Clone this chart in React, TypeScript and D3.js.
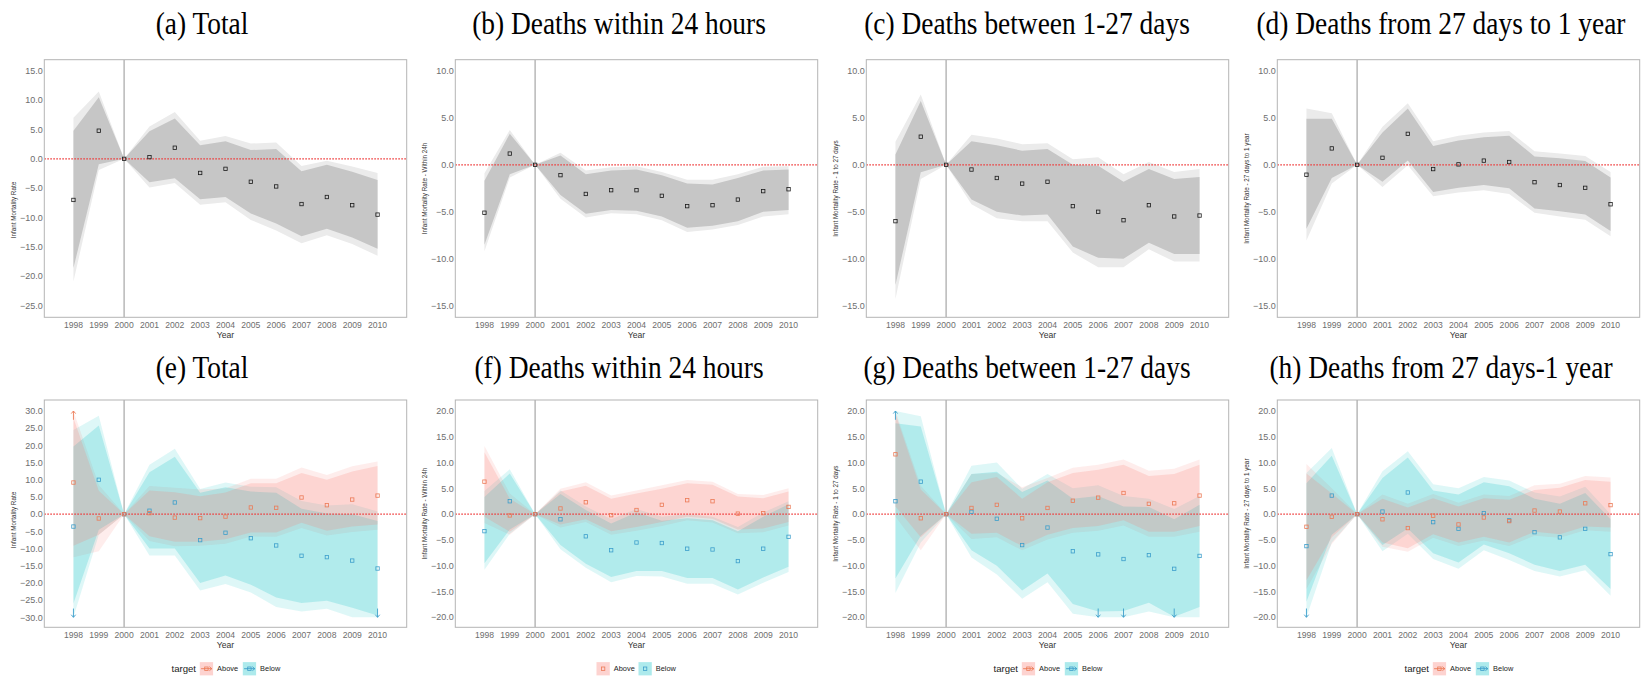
import React from "react";
import * as d3 from "d3";

// years on the x axis (2000 is the reference year)
const years = [1998, 1999, 2000, 2001, 2002, 2003, 2004, 2005, 2006, 2007, 2008, 2009, 2010];

// (a) Total
const aEst = [-7.0, 4.8, 0, 0.3, 1.9, -2.4, -1.7, -3.9, -4.7, -7.7, -6.5, -7.9, -9.5];
const aInLo = [-18.6, -0.9, 0, -4.0, -3.3, -6.9, -6.5, -9.3, -11.0, -13.2, -11.9, -13.4, -15.3];
const aInHi = [4.8, 10.5, 0, 4.7, 6.9, 2.3, 3.0, 1.5, 1.7, -2.1, -1.0, -2.2, -3.6];
const aOutLo = [-20.9, -1.9, 0, -4.9, -4.1, -7.8, -7.4, -10.4, -12.2, -14.4, -13.0, -14.5, -16.5];
const aOutHi = [7.0, 11.5, 0, 5.5, 8.0, 3.1, 3.9, 2.6, 2.8, -1.2, -0.3, -1.3, -2.4];

// (b) within 24 hours
const bEst = [-5.1, 1.2, 0, -1.1, -3.1, -2.7, -2.7, -3.3, -4.4, -4.3, -3.7, -2.8, -2.6];
const bInLo = [-8.5, -1.0, 0, -3.2, -5.2, -4.8, -4.9, -5.5, -6.7, -6.5, -6.0, -5.0, -4.8];
const bInHi = [-1.7, 3.3, 0, 1.0, -1.0, -0.6, -0.5, -1.1, -2.0, -2.1, -1.4, -0.6, -0.5];
const bOutLo = [-9.2, -1.35, 0, -3.6, -5.6, -5.15, -5.25, -5.9, -7.15, -6.9, -6.4, -5.5, -5.25];
const bOutHi = [-0.9, 3.7, 0, 1.3, -0.6, -0.25, -0.15, -0.75, -1.6, -1.6, -1.0, -0.2, -0.15];

// (c) 1 to 27 days
const cEst = [-6.0, 3.0, 0, -0.5, -1.4, -2.0, -1.8, -4.4, -5.0, -5.9, -4.3, -5.5, -5.4];
const cInLo = [-12.8, -0.8, 0, -3.7, -5.0, -5.4, -5.3, -8.7, -9.9, -10.0, -8.3, -9.5, -9.5];
const cInHi = [1.1, 6.8, 0, 2.5, 2.1, 1.5, 1.7, 0.0, -0.1, -1.8, -0.45, -1.5, -1.3];
const cOutLo = [-14.3, -1.5, 0, -4.2, -5.7, -6.0, -6.0, -9.35, -10.9, -10.9, -9.0, -10.3, -10.3];
const cOutHi = [2.45, 7.5, 0, 3.2, 2.8, 2.2, 2.3, 0.6, 0.8, -1.0, 0.3, -0.75, -0.45];

// (d) 27 days to 1 year
const dEst = [-1.05, 1.75, 0, 0.75, 3.3, -0.45, 0.05, 0.45, 0.3, -1.85, -2.15, -2.45, -4.2];
const dInLo = [-6.8, -1.4, 0, -1.8, 0.45, -2.9, -2.45, -2.15, -2.5, -4.65, -4.95, -5.3, -7.05];
const dInHi = [4.9, 4.9, 0, 3.45, 6.0, 2.0, 2.6, 2.95, 3.1, 0.9, 0.7, 0.4, -1.35];
const dOutLo = [-8.05, -2.0, 0, -2.35, -0.05, -3.35, -2.95, -2.7, -3.1, -5.1, -5.5, -5.85, -7.6];
const dOutHi = [6.0, 5.5, 0, 4.05, 6.55, 2.5, 3.1, 3.45, 3.6, 1.45, 1.2, 0.95, -0.75];

// (e) Total, by target
const eAEst = [9.2, -1.25, 0, 0.3, -1.0, -1.15, -0.7, 1.95, 1.85, 4.85, 2.6, 4.25, 5.4];
const eAInLo = [-9.2, -6.0, 0, -6.4, -8.0, -8.0, -7.3, -5.3, -5.3, -2.5, -4.8, -3.6, -3.0];
const eAInHi = [28.0, 6.8, 0, 6.9, 6.4, 5.2, 6.3, 9.0, 9.0, 12.0, 10.0, 12.4, 14.0];
const eAOutLo = [-12.5, -10.8, 0, -7.8, -9.3, -9.2, -8.6, -6.5, -6.6, -4.0, -6.2, -5.2, -4.5];
const eAOutHi = [30, 8.5, 0, 8.2, 7.7, 7.2, 7.5, 10.3, 10.3, 13.6, 11.4, 13.9, 15.3];
const eBEst = [-3.6, 10.0, 0, 1.0, 3.4, -7.55, -5.4, -7.0, -9.1, -12.1, -12.5, -13.5, -15.8];
const eBInLo = [-26.0, -4.5, 0, -10.0, -10.0, -20.0, -17.8, -20.5, -24.2, -25.8, -25.2, -27.2, -29.5];
const eBInHi = [19.7, 25.8, 0, 12.2, 16.7, 6.2, 7.8, 6.6, 6.2, 1.6, 0.2, 0.0, -2.0];
const eBOutLo = [-30, -6.0, 0, -12.0, -12.0, -22.2, -20.3, -22.8, -27.0, -28.3, -27.5, -30, -30];
const eBOutHi = [24.5, 28.6, 0, 14.4, 19.0, 7.3, 9.2, 8.0, 7.8, 3.8, 2.5, 2.9, 0.8];

// (f) within 24h, by target
const fAEst = [6.3, -0.25, 0, 1.1, 2.3, -0.2, 0.8, 1.8, 2.7, 2.5, 0.1, 0.2, 1.4];
const fAInLo = [-0.5, -3.4, 0, -2.0, -1.0, -3.3, -2.5, -1.5, -0.5, -0.9, -3.0, -2.8, -1.5];
const fAInHi = [12.0, 3.0, 0, 4.4, 5.5, 3.0, 4.0, 4.9, 6.0, 5.7, 3.4, 3.1, 4.4];
const fAOutLo = [-1.7, -4.0, 0, -2.6, -1.5, -4.0, -3.2, -2.3, -1.2, -1.6, -3.7, -3.5, -2.2];
const fAOutHi = [13.2, 4.0, 0, 4.9, 6.2, 3.6, 4.6, 5.6, 6.6, 6.3, 3.9, 3.7, 5.0];
const fBEst = [-3.3, 2.5, 0, -1.0, -4.3, -7.0, -5.5, -5.6, -6.7, -6.85, -9.1, -6.7, -4.4];
const fBInLo = [-9.5, -3.0, 0, -6.0, -9.6, -12.2, -11.0, -11.0, -12.4, -12.4, -14.6, -12.3, -10.2];
const fBInHi = [3.3, 7.9, 0, 3.9, 0.8, -1.8, 0.3, -1.3, -0.8, -1.2, -3.3, -0.5, 1.9];
const fBOutLo = [-10.8, -3.8, 0, -6.8, -10.4, -13.2, -12.0, -12.1, -13.5, -13.5, -15.6, -13.3, -11.2];
const fBOutHi = [4.5, 8.7, 0, 4.6, 1.5, -1.0, 1.0, -0.5, 0.0, -0.5, -2.5, 0.3, 2.5];

// (g) 1 to 27 days, by target
const gAEst = [11.6, -0.8, 0, 1.2, 1.8, -0.8, 1.2, 2.6, 3.2, 4.1, 2.0, 2.1, 3.6];
const gAInLo = [1.5, -4.5, 0, -3.8, -3.6, -6.2, -4.0, -2.7, -2.3, -1.2, -3.4, -3.4, -2.3];
const gAInHi = [19.5, 4.8, 0, 6.2, 7.2, 3.0, 6.2, 8.0, 8.6, 9.6, 7.4, 7.8, 9.6];
const gAOutLo = [-0.5, -7.0, 0, -4.8, -4.5, -7.0, -4.9, -3.6, -3.2, -2.2, -4.4, -4.4, -3.4];
const gAOutHi = [20, 5.5, 0, 7.8, 8.0, 5.2, 7.0, 9.0, 9.6, 10.6, 8.4, 8.8, 10.6];
const gBEst = [2.5, 6.3, 0, 0.45, -0.9, -6.0, -2.6, -7.2, -7.8, -8.7, -7.95, -10.6, -8.1];
const gBInLo = [-12.5, -4.2, 0, -7.0, -10.0, -14.8, -11.5, -17.4, -18.9, -18.8, -17.2, -19.9, -18.0];
const gBInHi = [17.6, 17.0, 0, 7.8, 8.2, 4.3, 6.5, 3.0, 3.5, 1.5, 1.4, -1.0, 1.8];
const gBOutLo = [-15.3, -5.5, 0, -8.4, -11.7, -16.4, -13.2, -19.3, -20, -20, -18.9, -20, -20];
const gBOutHi = [20, 19.0, 0, 9.4, 10.0, 4.9, 7.8, 5.0, 5.6, 3.5, 3.0, 1.0, 3.5];

// (h) 27 days to 1 year, by target
const hAEst = [-2.45, -0.5, 0, -1.0, -2.7, -0.3, -2.0, -0.65, -1.35, 0.7, 0.5, 2.1, 1.75];
const hAInLo = [-12.8, -4.5, 0, -5.5, -6.6, -3.9, -5.5, -4.4, -5.5, -3.4, -3.9, -2.4, -2.6];
const hAInHi = [7.9, 4.0, 0, 3.0, 1.3, 3.1, 1.5, 3.1, 2.8, 4.7, 5.1, 6.6, 6.3];
const hAOutLo = [-14.5, -5.8, 0, -6.3, -7.3, -4.6, -6.2, -5.1, -6.2, -4.2, -4.6, -3.1, -3.4];
const hAOutHi = [9.7, 5.0, 0, 3.8, 2.0, 3.9, 2.2, 3.8, 3.5, 5.6, 5.9, 7.4, 7.1];
const hBEst = [-6.2, 3.6, 0, 0.5, 4.2, -1.55, -2.85, 0.2, -1.2, -3.5, -4.5, -2.85, -7.75];
const hBInLo = [-17.0, -4.0, 0, -6.0, -2.8, -7.6, -9.4, -5.9, -7.6, -9.8, -11.0, -9.8, -14.5];
const hBInHi = [6.0, 11.3, 0, 7.0, 11.0, 4.6, 3.8, 6.2, 5.4, 3.0, 2.0, 4.1, -1.0];
const hBOutLo = [-20, -5.5, 0, -7.2, -3.8, -8.7, -10.6, -7.0, -8.9, -11.0, -12.1, -10.9, -15.8];
const hBOutHi = [8.0, 12.8, 0, 8.3, 12.2, 5.8, 5.0, 7.2, 6.5, 4.2, 3.4, 5.3, 0.0];

// intervals cut off by the axis limits
const eAboveUp = [1998];
const eBelowDown = [1998, 2010];
const gBelowUp = [1998];
const gBelowDown = [2006, 2007, 2009];
const hBelowDown = [1998];

const ticksA = [15, 10, 5, 0, -5, -10, -15, -20, -25];
const ticksBCD = [10, 5, 0, -5, -10, -15];
const ticksE = [30, 25, 20, 15, 10, 5, 0, -5, -10, -15, -20, -25, -30];
const ticksFGH = [20, 15, 10, 5, 0, -5, -10, -15, -20];

const titles = [
  "(a) Total", "(b) Deaths within 24 hours", "(c) Deaths between 1-27 days", "(d) Deaths from 27 days to 1 year",
  "(e) Total", "(f) Deaths within 24 hours", "(g) Deaths between 1-27 days", "(h) Deaths from 27 days-1 year",
];
const yTitles = [
  "Infant Mortality Rate", "Infant Mortality Rate - Within 24h",
  "Infant Mortality Rate - 1 to 27 days", "Infant Mortality Rate - 27 days to 1 year",
];
const groups = ["Above", "Below"];

const colLeft = [44.3, 455.3, 866.3, 1277.3];
const panelW = 362.4;
const rowTop = [59.7, 400];
const rowBottom = [317.3, 627.3];
const xDomain = [1996.85, 2011.15];

const ABOVE = "#F8766D";
const BELOW = "#00BFC4";
const ABOVE_PT = "#EC7A56";
const BELOW_PT = "#3C9ECB";
const SANS = "'Liberation Sans', Arial, Helvetica, sans-serif";
const SERIF = "'Liberation Serif', 'Times New Roman', serif";

type Series = {
  est: number[]; inLo: number[]; inHi: number[]; outLo: number[]; outHi: number[];
  fill?: string; pt: string; up?: number[]; down?: number[];
};

type PanelDef = {
  col: number; row: number; yDomain: [number, number]; ticks: number[];
  yTitle: string; yTitleY?: number; series: Series[]; legend?: "full" | "points";
};

const gray = (est, inLo, inHi, outLo, outHi): Series => ({ est, inLo, inHi, outLo, outHi, pt: "#1a1a1a" });

const panels: PanelDef[] = [
  { col: 0, row: 0, yDomain: [-27.0, 16.9], ticks: ticksA, yTitle: yTitles[0], yTitleY: 210, series: [gray(aEst, aInLo, aInHi, aOutLo, aOutHi)] },
  { col: 1, row: 0, yDomain: [-16.24, 11.2], ticks: ticksBCD, yTitle: yTitles[1], series: [gray(bEst, bInLo, bInHi, bOutLo, bOutHi)] },
  { col: 2, row: 0, yDomain: [-16.24, 11.2], ticks: ticksBCD, yTitle: yTitles[2], series: [gray(cEst, cInLo, cInHi, cOutLo, cOutHi)] },
  { col: 3, row: 0, yDomain: [-16.24, 11.2], ticks: ticksBCD, yTitle: yTitles[3], series: [gray(dEst, dInLo, dInHi, dOutLo, dOutHi)] },
  {
    col: 0, row: 1, yDomain: [-32.9, 33.2], ticks: ticksE, yTitle: yTitles[0], yTitleY: 520, legend: "full",
    series: [
      { est: eBEst, inLo: eBInLo, inHi: eBInHi, outLo: eBOutLo, outHi: eBOutHi, fill: BELOW, pt: BELOW_PT, down: eBelowDown },
      { est: eAEst, inLo: eAInLo, inHi: eAInHi, outLo: eAOutLo, outHi: eAOutHi, fill: ABOVE, pt: ABOVE_PT, up: eAboveUp },
    ],
  },
  {
    col: 1, row: 1, yDomain: [-21.94, 22.13], ticks: ticksFGH, yTitle: yTitles[1], legend: "points",
    series: [
      { est: fBEst, inLo: fBInLo, inHi: fBInHi, outLo: fBOutLo, outHi: fBOutHi, fill: BELOW, pt: BELOW_PT },
      { est: fAEst, inLo: fAInLo, inHi: fAInHi, outLo: fAOutLo, outHi: fAOutHi, fill: ABOVE, pt: ABOVE_PT },
    ],
  },
  {
    col: 2, row: 1, yDomain: [-21.94, 22.13], ticks: ticksFGH, yTitle: yTitles[2], legend: "full",
    series: [
      { est: gBEst, inLo: gBInLo, inHi: gBInHi, outLo: gBOutLo, outHi: gBOutHi, fill: BELOW, pt: BELOW_PT, up: gBelowUp, down: gBelowDown },
      { est: gAEst, inLo: gAInLo, inHi: gAInHi, outLo: gAOutLo, outHi: gAOutHi, fill: ABOVE, pt: ABOVE_PT },
    ],
  },
  {
    col: 3, row: 1, yDomain: [-21.94, 22.13], ticks: ticksFGH, yTitle: yTitles[3], legend: "full",
    series: [
      { est: hBEst, inLo: hBInLo, inHi: hBInHi, outLo: hBOutLo, outHi: hBOutHi, fill: BELOW, pt: BELOW_PT, down: hBelowDown },
      { est: hAEst, inLo: hAInLo, inHi: hAInHi, outLo: hAOutLo, outHi: hAOutHi, fill: ABOVE, pt: ABOVE_PT },
    ],
  },
];

const fmt = (v: number) => (v < 0 ? "\u2212" : "") + Math.abs(v).toFixed(1);

function Arrow({ x, y0, y1, color }) {
  // little open arrow, y1 is the tip
  const dir = y1 < y0 ? 1 : -1;
  return (
    <g stroke={color} strokeWidth={0.9} fill="none">
      <line x1={x} x2={x} y1={y0} y2={y1} />
      <polyline points={`${x - 2.2},${y1 + dir * 2.6} ${x},${y1} ${x + 2.2},${y1 + dir * 2.6}`} />
    </g>
  );
}

function Legend({ cx, mode }) {
  const cy = 668.7;
  const items = groups.map((g, i) => ({
    g, fill: i === 0 ? ABOVE : BELOW, pt: i === 0 ? ABOVE_PT : BELOW_PT,
  }));
  const start = mode === "full" ? cx - 54 : cx - 40;
  const keyX = mode === "full" ? [28.3, 71.3] : [0, 42];
  return (
    <g fontFamily={SANS}>
      {mode === "full" && (
        <text x={start} y={cy + 3.3} fontSize={9.6} fill="#222">target</text>
      )}
      {items.map((it, i) => {
        const kx = start + keyX[i];
        return (
          <g key={it.g}>
            <rect x={kx} y={cy - 6.6} width={13.3} height={13.3} fill={it.fill} fillOpacity={0.32} />
            {mode === "full" && (
              <g stroke={it.pt} strokeWidth={0.9} fill="none">
                <line x1={kx + 1.3} x2={kx + 12} y1={cy} y2={cy} />
                <polyline points={`${kx + 9.6},${cy - 2} ${kx + 12},${cy} ${kx + 9.6},${cy + 2}`} />
              </g>
            )}
            <rect x={kx + 4.9} y={cy - 1.7} width={3.4} height={3.4} fill="none" stroke={it.pt} strokeWidth={0.8} />
            <text x={kx + 17.3} y={cy + 2.6} fontSize={7.4} fill="#222">{it.g}</text>
          </g>
        );
      })}
    </g>
  );
}

function Panel({ p, idx }: { p: PanelDef; idx: number }) {
  const left = colLeft[p.col];
  const right = left + panelW;
  const top = rowTop[p.row];
  const bottom = rowBottom[p.row];
  const x = d3.scaleLinear().domain(xDomain).range([left, right]);
  const y = d3.scaleLinear().domain(p.yDomain).range([bottom, top]);
  const idxs = years.map((_, i) => i);
  const band = (lo: number[], hi: number[]) =>
    d3.area<number>().x((i) => x(years[i])).y0((i) => y(lo[i])).y1((i) => y(hi[i]))(idxs) || "";
  const clipId = `clip${idx}`;
  const cx = (left + right) / 2;
  const lim = p.ticks[0];
  const colored = p.series[0].fill !== undefined;

  return (
    <g>
      <defs>
        <clipPath id={clipId}>
          <rect x={left} y={top} width={panelW} height={bottom - top} />
        </clipPath>
      </defs>
      <g clipPath={`url(#${clipId})`}>
        {colored ? (
          <>
            {p.series.map((s, i) => (
              <path key={`o${i}`} d={band(s.outLo, s.outHi)} fill={s.fill} fillOpacity={0.13} />
            ))}
            {p.series.map((s, i) => (
              <path key={`i${i}`} d={band(s.inLo, s.inHi)} fill={s.fill} fillOpacity={0.2} />
            ))}
          </>
        ) : (
          <>
            <path d={band(p.series[0].outLo, p.series[0].outHi)} fill="#ebebeb" />
            <path d={band(p.series[0].inLo, p.series[0].inHi)} fill="#c6c6c6" />
          </>
        )}
        <line x1={x(2000)} x2={x(2000)} y1={top} y2={bottom} stroke="#bdbdbd" strokeWidth={1.6} />
        <line x1={left} x2={right} y1={y(0)} y2={y(0)} stroke="#ef3a3a" strokeWidth={1.2} strokeDasharray="1.6,1.4" />
        {p.series.map((s, si) => (
          <g key={`p${si}`}>
            {s.est.map((v, i) => (
              <rect key={i} x={x(years[i]) - 1.7} y={y(v) - 1.7} width={3.4} height={3.4}
                fill="none" stroke={s.pt} strokeWidth={0.8} />
            ))}
            {(s.up || []).map((yr) => (
              <Arrow key={`u${yr}`} x={x(yr)} y0={y(lim - 1.7 * (lim / 20))} y1={y(lim)} color={s.pt} />
            ))}
            {(s.down || []).map((yr) => (
              <Arrow key={`d${yr}`} x={x(yr)} y0={y(-lim + 1.7 * (lim / 20))} y1={y(-lim)} color={s.pt} />
            ))}
          </g>
        ))}
      </g>
      <rect x={left} y={top} width={panelW} height={bottom - top} fill="none" stroke="#b4b4b4" strokeWidth={1} />
      <g fontFamily={SANS} fontSize={9} fill="#6e6e6e">
        {p.ticks.map((t) => (
          <text key={t} x={left - 1.6} y={y(t) + 3.2} textAnchor="end">{fmt(t)}</text>
        ))}
        {years.map((yr) => (
          <text key={yr} x={x(yr)} y={bottom + 10.2} textAnchor="middle" fontSize={8.6}>{yr}</text>
        ))}
      </g>
      <text x={cx} y={bottom + 20.6} textAnchor="middle" fontFamily={SANS} fontSize={8.6} fill="#333">Year</text>
      <text
        transform={`translate(${left - 28.2},${p.yTitleY ?? (top + bottom) / 2}) rotate(-90)`}
        textAnchor="middle" fontFamily={SANS} fontSize={6.3} fill="#333"
      >
        {p.yTitle}
      </text>
      {p.legend && <Legend cx={cx} mode={p.legend} />}
    </g>
  );
}

export default function App() {
  const titleCx = [202, 619, 1027, 1441];
  const titleY = [34, 378];
  return (
    <svg width={1645} height={679} style={{ position: "absolute", left: 0, top: 0, background: "#fff" }}>
      <rect width={1645} height={679} fill="#fff" />
      {titles.map((t, i) => (
        <text key={t + i}
          transform={`translate(${titleCx[i % 4]},${titleY[Math.floor(i / 4)]}) scale(0.87,1)`}
          textAnchor="middle" fontFamily={SERIF} fontSize={31.5} fill="#000">{t}</text>
      ))}
      {panels.map((p, i) => (
        <Panel key={i} p={p} idx={i} />
      ))}
    </svg>
  );
}
